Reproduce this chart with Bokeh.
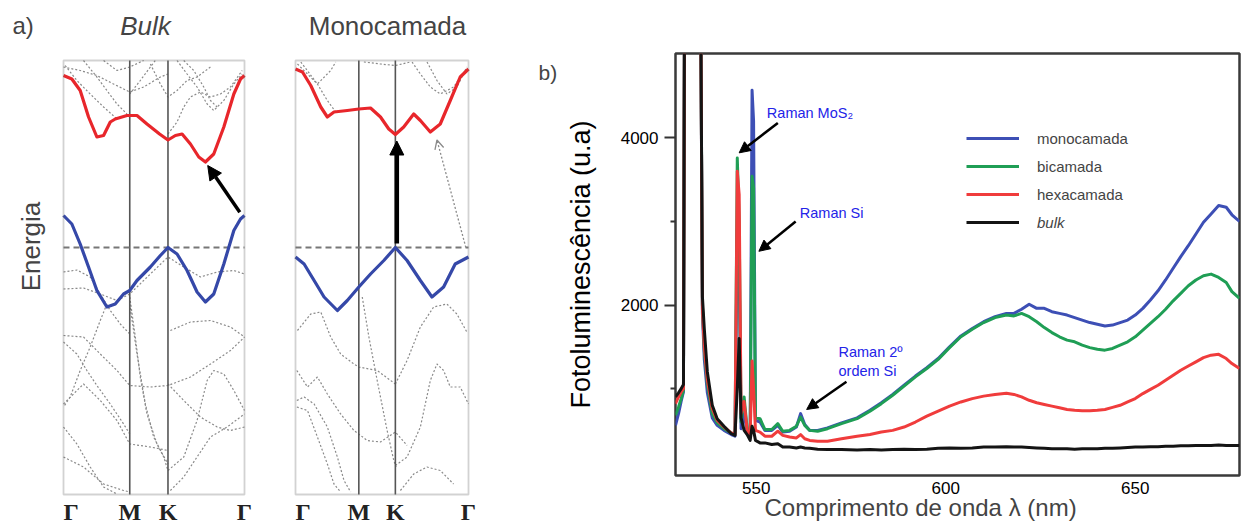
import math
from bokeh.plotting import figure
from bokeh.layouts import row
from bokeh.models import (Label, LabelSet, ColumnDataSource, Arrow, NormalHead, OpenHead,
                          Legend, LegendItem, FixedTicker, Range1d, BoxAnnotation, Title)
from bokeh.embed import file_html
from bokeh.resources import INLINE
from bokeh.core.properties import field

FONT = "Liberation Sans"

# ---------------- data: band structures (k along Γ-M-K-Γ, energy in eV, VBM = 0) ----------
k_ticks = [0.0, 1.0, 1.577, 2.732]
k_names = ["Γ", "M", "K", "Γ"]
k_align = ["left", "center", "center", "center"]
E_MIN, E_MAX = -4.94, 3.74

bulk_cb_k = [0, 0.126, 0.252, 0.378, 0.504, 0.605, 0.706, 0.781, 0.958, 1.109, 1.26, 1.45,
             1.577, 1.689, 1.79, 1.916, 2.042, 2.142, 2.268, 2.42, 2.571, 2.672, 2.732]
bulk_cb_E = [3.44, 3.37, 3.14, 2.61, 2.21, 2.24, 2.51, 2.57, 2.64, 2.64, 2.47, 2.27,
             2.15, 2.24, 2.27, 2.07, 1.81, 1.71, 1.87, 2.41, 3.07, 3.37, 3.44]
bulk_vb_k = [0, 0.126, 0.252, 0.378, 0.504, 0.655, 0.781, 0.907, 1.0, 1.109, 1.311, 1.462,
             1.577, 1.714, 1.865, 2.016, 2.142, 2.268, 2.42, 2.571, 2.672, 2.732]
bulk_vb_E = [0.64, 0.47, 0.07, -0.39, -0.86, -1.19, -1.13, -0.93, -0.86, -0.66, -0.39, -0.16,
             0.0, -0.13, -0.46, -0.89, -1.09, -0.93, -0.33, 0.34, 0.57, 0.64]

mono_cb_k = [0, 0.11, 0.241, 0.399, 0.503, 0.608, 0.818, 1.0, 1.185, 1.342, 1.473, 1.577,
             1.709, 1.867, 1.972, 2.129, 2.286, 2.444, 2.601, 2.732]
mono_cb_E = [3.57, 3.51, 3.24, 2.81, 2.61, 2.71, 2.74, 2.77, 2.79, 2.61, 2.37, 2.26,
             2.41, 2.67, 2.54, 2.31, 2.47, 2.94, 3.41, 3.57]
mono_vb_k = [0, 0.136, 0.294, 0.451, 0.661, 0.818, 1.0, 1.185, 1.395, 1.577, 1.762, 1.972,
             2.155, 2.339, 2.522, 2.732]
mono_vb_E = [-0.19, -0.33, -0.66, -0.99, -1.26, -1.06, -0.79, -0.53, -0.26, 0.0, -0.26, -0.66,
             -0.99, -0.79, -0.33, -0.19]

bulk_other_k = [
    [0.025, 0.202, 0.403, 0.605, 0.807, 1.0],
    [0, 0.252, 0.504, 0.756, 1.0, 1.21, 1.462, 1.577],
    [0.302, 0.504, 0.655, 0.807, 0.958],
    [0.605, 0.807, 1.0, 1.21],
    [1.0, 1.159, 1.311, 1.386],
    [1.577, 1.714, 1.815, 1.916, 2.067, 2.218, 2.369, 2.521, 2.697],
    [1.714, 1.865, 2.016, 2.168, 2.268, 2.42, 2.571, 2.697],
    [1.815, 1.966, 2.117, 2.218, 2.319],
    [1.311, 1.462, 1.577, 1.714, 1.865, 2.016, 2.218],
    [0, 0.202, 0.403, 0.555, 0.706, 0.857, 1.0],
    [0, 0.302, 0.555, 0.807, 1.0, 1.311, 1.577, 1.815, 2.067, 2.319, 2.571, 2.732],
    [0, 0.302, 0.555, 0.807, 1.0, 1.311, 1.577, 1.916, 2.218, 2.521, 2.732],
    [0, 0.202, 0.353, 0.504, 0.706, 0.907, 1.0],
    [0.655, 0.555, 0.403, 0.252, 0.101, 0],
    [1.0, 1.084, 1.159, 1.26, 1.411, 1.577],
    [1.0, 1.109, 1.235, 1.361, 1.512, 1.577],
    [1.577, 1.815, 2.016, 2.168, 2.268, 2.42, 2.571, 2.732],
    [1.613, 1.815, 2.016, 2.218, 2.47, 2.732],
    [0, 0.302, 0.555, 0.807, 1.0, 1.311, 1.577],
    [0, 0.202, 0.403, 0.605, 0.807],
    [0, 0.302, 0.605, 0.907, 1.0],
    [1.577, 1.815, 2.067, 2.319, 2.521, 2.732],
    [1.613, 1.916, 2.218, 2.521, 2.732],
]
bulk_other_E = [
    [3.64, 3.34, 3.07, 2.81, 2.57, 2.67],
    [3.61, 3.54, 3.44, 3.27, 3.11, 3.21, 3.41, 3.47],
    [3.74, 3.41, 3.14, 2.87, 2.67],
    [3.74, 3.54, 3.61, 3.74],
    [3.07, 3.34, 3.61, 3.74],
    [2.27, 2.51, 2.81, 3.01, 3.11, 3.01, 3.07, 3.21, 3.54],
    [3.74, 3.47, 3.21, 2.87, 2.74, 2.94, 3.27, 3.47],
    [3.74, 3.54, 3.21, 2.94, 2.81],
    [3.67, 3.27, 3.01, 3.14, 3.34, 3.41, 3.61],
    [-0.49, -0.45, -0.59, -0.93, -1.26, -1.53, -1.73],
    [-0.83, -0.81, -0.93, -1.06, -0.93, -0.53, -0.19, -0.39, -0.59, -0.49, -0.46, -0.53],
    [-1.76, -1.79, -2.13, -2.46, -2.76, -2.79, -2.76, -2.59, -2.33, -2.06, -1.79],
    [-1.89, -2.13, -2.46, -2.76, -3.13, -3.53, -3.73],
    [-1.13, -1.46, -1.99, -2.46, -2.99, -3.19],
    [-0.99, -1.79, -2.59, -3.33, -3.93, -4.33],
    [-1.13, -2.13, -3.13, -3.79, -4.19, -4.46],
    [-4.46, -4.19, -3.46, -2.66, -2.46, -2.53, -2.86, -3.26],
    [-4.86, -4.59, -4.19, -3.79, -3.59, -3.33],
    [-3.13, -2.73, -3.06, -3.46, -3.93, -3.99, -4.06],
    [-3.59, -3.93, -4.39, -4.79, -4.93],
    [-4.19, -4.39, -4.73, -4.86, -4.89],
    [-2.73, -3.06, -3.39, -3.59, -3.66, -3.59],
    [-1.66, -1.49, -1.46, -1.59, -1.79],
]

mono_other_k = [
    [0.031, 0.189, 0.346, 0.503, 0.635],
    [0.084, 0.346, 0.556, 0.635],
    [1.841, 1.972, 2.129, 2.286, 2.496, 2.68],
    [2.077, 2.234, 2.391, 2.549, 2.706],
    [1.08, 1.342, 1.577, 1.815],
    [0.031, 0.241, 0.399, 0.556, 0.713, 0.923, 1.0, 1.29, 1.577],
    [0.021, 0.189, 0.346, 0.503, 0.713, 0.923, 1.133, 1.342, 1.577, 1.762],
    [0.021, 0.136, 0.294, 0.503, 0.661, 0.766, 0.871],
    [0.021, 0.189, 0.346, 0.503, 0.608, 0.713],
    [1.054, 1.159, 1.29, 1.447, 1.552, 1.589],
    [1.577, 1.762, 1.972, 2.182, 2.391, 2.549, 2.706],
    [1.577, 1.762, 1.972, 2.129, 2.234, 2.339, 2.444, 2.601, 2.732],
    [1.657, 1.867, 2.077, 2.286, 2.496],
]
mono_other_E = [
    [3.67, 3.47, 3.27, 2.94, 2.71],
    [3.71, 3.27, 3.54, 3.71],
    [3.71, 3.47, 3.21, 3.07, 3.21, 3.54],
    [3.71, 3.34, 3.07, 3.21, 3.61],
    [3.71, 3.67, 3.64, 3.71],
    [-1.66, -1.33, -1.29, -1.79, -2.13, -2.33, -2.39, -2.46, -2.73],
    [-2.46, -2.79, -2.59, -2.93, -3.33, -3.66, -3.86, -3.89, -3.69, -3.96],
    [-3.06, -2.99, -3.13, -3.59, -4.19, -4.66, -4.89],
    [-3.19, -3.26, -3.79, -4.33, -4.73, -4.89],
    [-0.99, -1.79, -2.66, -3.66, -4.26, -4.39],
    [-2.73, -2.26, -1.59, -1.19, -1.13, -1.33, -1.69],
    [-4.36, -4.19, -3.59, -2.66, -2.33, -2.46, -2.79, -2.79, -3.13],
    [-4.86, -4.53, -4.39, -4.46, -4.73],
]

# transitions: (k_from, E_from, k_to, E_to)
bulk_gap = (2.661, 0.706, 2.177, 1.64)
mono_gap = (1.60, 0.08, 1.60, 2.13)
mono_indirect = (2.69, 0.0, 2.234, 2.15)

# ---------------- data: photoluminescence spectra ----------------
wavelength = [528.7, 529.5, 530.2, 530.8, 531.1, 535.3, 535.8, 536.3, 537.1, 538.4,
              539.7, 541.5, 543.4, 544.4, 545.0, 545.5, 546.0, 546.8, 547.6, 548.4,
              548.9, 549.3, 549.8, 551.0, 552.3, 554.1, 555.7, 557.0, 558.8, 560.6,
              561.7, 562.8, 564.1, 566.2, 568.8, 572.5, 576.6, 580, 583, 586,
              589, 592, 595, 598, 601, 604, 607, 610, 613, 616,
              618, 620, 622, 624, 626, 628, 630, 632, 634, 636,
              638, 640, 642, 644, 646, 648, 650, 652, 654, 656,
              658, 660, 662, 664, 666, 668, 670, 672, 674, 675.5,
              677.5]
pl_mono = [560, 700, 850, 960, 6000, 6000, 1900, 1350, 950, 650,
           560, 500, 450, 430, 2900, 2400, 520, 700, 480, 450,
           4570, 4200, 620, 600, 500, 500, 560, 480, 490, 540,
           700, 570, 500, 500, 530, 590, 650, 740, 830, 930,
           1040, 1150, 1250, 1360, 1500, 1630, 1720, 1800, 1860, 1900,
           1900, 1950, 2010, 1960, 1960, 1920, 1900, 1880, 1850, 1820,
           1790, 1770, 1750, 1760, 1790, 1820, 1880, 1960, 2060, 2170,
           2300, 2440, 2580, 2710, 2850, 2990, 3090, 3190, 3170, 3080,
           3000]
pl_bi = [680, 780, 880, 980, 6000, 6000, 2000, 1450, 1050, 700,
         590, 520, 470, 450, 3760, 3000, 600, 900, 520, 470,
         3540, 3400, 650, 640, 510, 510, 580, 490, 500, 550,
         660, 560, 500, 490, 520, 580, 640, 730, 820, 920,
         1030, 1140, 1240, 1350, 1490, 1620, 1710, 1790, 1850, 1880,
         1870, 1900, 1860, 1800, 1730, 1670, 1620, 1580, 1560, 1520,
         1490, 1470, 1460, 1480, 1520, 1560, 1620, 1700, 1780, 1860,
         1950, 2050, 2140, 2230, 2300, 2350, 2370, 2330, 2270, 2160,
         2080]
pl_hexa = [820, 900, 960, 1000, 6000, 6000, 1950, 1500, 1100, 760,
           620, 540, 470, 450, 3600, 3320, 700, 845, 500, 440,
           1330, 1000, 500, 480, 430, 430, 490, 440, 420, 410,
           450, 400, 380, 370, 370, 400, 430, 450, 480, 500,
           540, 600, 670, 730, 790, 840, 880, 910, 930, 945,
           930, 900, 860, 830, 810, 790, 770, 750, 740, 735,
           735, 740, 750, 775, 800, 840, 880, 940, 990, 1040,
           1100, 1160, 1220, 1270, 1320, 1370, 1400, 1410, 1360, 1300,
           1240]
pl_bulk = [900, 950, 1000, 1050, 6000, 6000, 2100, 1714, 1200, 800,
           640, 550, 460, 440, 1000, 1600, 650, 500, 450, 380,
           550, 500, 380, 350, 350, 330, 340, 300, 300, 290,
           300, 290, 285, 275, 270, 270, 265, 270, 265, 270,
           275, 270, 275, 285, 290, 285, 290, 300, 300, 305,
           300, 300, 295, 290, 285, 280, 280, 280, 275, 280,
           280, 280, 285, 285, 290, 295, 300, 300, 305, 305,
           310, 310, 315, 315, 320, 320, 320, 325, 320, 320,
           320]
series_names = ["monocamada", "bicamada", "hexacamada", "bulk"]
series_colors = ["#3d4fb5", "#1f9e55", "#f03c3c", "#141414"]

y_ticks = [2000, 4000]
y_minor = [1000, 3000]
x_ticks = [550, 600, 650]

raman_texts = [("Raman MoS₂", 552.8, 4298), ("Raman Si", 561.5, 3107),
               ("Raman 2º", 571.7, 1440), ("ordem Si", 571.7, 1214)]
raman_arrows = [(555.7, 4179, 545.5, 3821), (560.4, 3000, 550.7, 2643),
                (573.8, 1083, 563.3, 750)]

# ---------------- layout constants (pixels) ----------------
H = 524
BOX_TOP, BOX_BOTTOM = 60, 494


def no_align(p):
    try:
        p.frame_align = False
    except Exception:
        pass


def k_range(box_l, box_r, fig_l, fig_r):
    s = (box_r - box_l) / (k_ticks[-1] - k_ticks[0])
    return Range1d(k_ticks[0] - (box_l - fig_l) / s, k_ticks[-1] + (fig_r - box_r) / s)


def e_range():
    s = (BOX_BOTTOM - BOX_TOP) / (E_MAX - E_MIN)
    return Range1d(E_MIN - (H - BOX_BOTTOM) / s, E_MAX + BOX_TOP / s)


def band_panel(fig_l, fig_r, box_l, box_r, cb_k, cb_E, vb_k, vb_E, ok, oE,
               title, italic, title_x):
    p = figure(width=fig_r - fig_l, height=H, x_range=k_range(box_l, box_r, fig_l, fig_r),
               y_range=e_range(), x_axis_location=None, y_axis_location=None,
               toolbar_location=None, output_backend="svg", min_border=0,
               min_border_left=0, min_border_right=0, min_border_top=0, min_border_bottom=0)
    no_align(p)
    p.grid.visible = False
    p.outline_line_color = None
    p.background_fill_color = "white"
    p.border_fill_color = "white"
    p.multi_line(ok, oE, line_color="#8a8a8a", line_width=1.2, line_dash="2 2")
    p.segment(x0=k_ticks[1:3], y0=[E_MIN] * 2, x1=k_ticks[1:3], y1=[E_MAX] * 2,
              line_color="#555555", line_width=1.6)
    p.segment(x0=[k_ticks[0]], y0=[0], x1=[k_ticks[-1]], y1=[0], line_color="#777777",
              line_width=2, line_dash="6 4")
    p.line(cb_k, cb_E, line_color="#e8262b", line_width=3.2, line_join="round")
    p.line(vb_k, vb_E, line_color="#3548a8", line_width=3.2, line_join="round")
    p.add_layout(BoxAnnotation(left=k_ticks[0], right=k_ticks[-1], bottom=E_MIN, top=E_MAX,
                               fill_alpha=0, line_color="#6a6a6a", line_width=1.8))
    src = ColumnDataSource(dict(k=k_ticks, name=k_names, align=k_align))
    p.add_layout(LabelSet(x="k", y=H - 511, y_units="screen", text="name", source=src,
                          text_align=field("align"), text_baseline="middle",
                          text_font="Liberation Serif", text_font_style="bold",
                          text_font_size="24px", text_color="#222222"))
    p.add_layout(Label(x=title_x - fig_l, y=H - 25, x_units="screen", y_units="screen",
                       text=title, text_align="center", text_baseline="middle",
                       text_font=FONT, text_font_size="26px",
                       text_font_style="italic" if italic else "normal"))
    return p


p1 = band_panel(0, 270, 63, 244, bulk_cb_k, bulk_cb_E, bulk_vb_k, bulk_vb_E,
                bulk_other_k, bulk_other_E, "Bulk", True, 145)
p2 = band_panel(270, 562, 295, 468, mono_cb_k, mono_cb_E, mono_vb_k, mono_vb_E,
                mono_other_k, mono_other_E, "Monocamada", False, 387)

p1.add_layout(Arrow(end=NormalHead(size=14, fill_color="black", line_color="black"),
                    x_start=bulk_gap[0], y_start=bulk_gap[1], x_end=bulk_gap[2], y_end=bulk_gap[3],
                    line_width=3.5, line_color="black"))
p2.add_layout(Arrow(end=NormalHead(size=14, fill_color="black", line_color="black"),
                    x_start=mono_gap[0], y_start=mono_gap[1], x_end=mono_gap[2], y_end=mono_gap[3],
                    line_width=4.5, line_color="black"))
p2.add_layout(Arrow(end=OpenHead(size=9, line_color="#8a8a8a", line_width=1.3),
                    x_start=mono_indirect[0], y_start=mono_indirect[1],
                    x_end=mono_indirect[2], y_end=mono_indirect[3],
                    line_width=1.3, line_color="#8a8a8a", line_dash="2 2"))
p1.add_layout(Label(x=12, y=H - 25, x_units="screen", y_units="screen", text="a)",
                    text_align="left", text_baseline="middle", text_font=FONT,
                    text_font_size="24px"))
p1.add_layout(Label(x=30, y=H - 246, x_units="screen", y_units="screen", text="Energia",
                    angle=math.pi / 2, text_align="center", text_baseline="middle",
                    text_font=FONT, text_font_size="26px"))
p2.add_layout(Label(x=538 - 270, y=H - 72, x_units="screen", y_units="screen", text="b)",
                    text_align="left", text_baseline="middle", text_font=FONT,
                    text_font_size="21px"))

# ---------------- PL panel ----------------
p3 = figure(width=1244 - 562, height=H, x_range=Range1d(528.7, 677.5),
            y_range=Range1d(-40, 5010), toolbar_location=None, output_backend="svg",
            min_border_left=109, min_border_right=5, min_border_top=53, min_border_bottom=49)
no_align(p3)
p3.grid.visible = False
p3.outline_line_color = "#3a3a3a"
p3.outline_line_width = 2.5
renderers = []
for ys, c in zip([pl_mono, pl_bi, pl_hexa, pl_bulk], series_colors):
    renderers.append(p3.line(wavelength, ys, line_color=c, line_width=3.0, line_join="round"))

yax = p3.yaxis[0]
yax.ticker = FixedTicker(ticks=y_ticks, minor_ticks=y_minor)
yax.axis_line_color = None
yax.major_tick_out = 11
yax.major_tick_in = 0
yax.minor_tick_out = 5
yax.minor_tick_in = 0
yax.major_tick_line_width = 2
yax.minor_tick_line_width = 2
yax.major_tick_line_color = "#333333"
yax.minor_tick_line_color = "#333333"
yax.major_label_standoff = 6
yax.major_label_text_font = FONT
yax.major_label_text_font_size = "17px"
yax.major_label_text_color = "black"
yax.axis_label = "Fotoluminescência (u.a)"
yax.axis_label_text_font = FONT
yax.axis_label_text_font_size = "27px"
yax.axis_label_text_font_style = "normal"
yax.axis_label_text_color = "black"
yax.axis_label_standoff = 22

xax = p3.xaxis[0]
xax.ticker = FixedTicker(ticks=x_ticks, minor_ticks=[])
xax.axis_line_color = None
xax.major_tick_out = 0
xax.major_tick_in = 0
xax.major_label_standoff = 6
xax.major_label_text_font = FONT
xax.major_label_text_font_size = "17px"
xax.major_label_text_color = "black"

title_kw = dict(text="Comprimento de onda  λ (nm)", align="left", offset=89,
                text_font=FONT, text_font_size="24px", text_font_style="normal",
                vertical_align="top")
try:
    xtitle = Title(standoff=-5, **title_kw)
except Exception:
    xtitle = Title(standoff=0, **title_kw)
p3.add_layout(xtitle, "below")

for t, x, y in raman_texts:
    p3.add_layout(Label(x=x, y=y, text=t, text_align="left", text_baseline="middle",
                        text_font=FONT, text_font_size="14.5px", text_color="#2323e8"))
for xs, ys, xe, ye in raman_arrows:
    p3.add_layout(Arrow(end=NormalHead(size=11, fill_color="black", line_color="black"),
                        x_start=xs, y_start=ys, x_end=xe, y_end=ye,
                        line_width=2.5, line_color="black"))

common = dict(glyph_width=53, glyph_height=20, label_height=20, spacing=8, padding=0,
              margin=0, label_standoff=18, label_text_font=FONT, label_text_font_size="15px",
              border_line_color=None, background_fill_alpha=0)
leg1 = Legend(items=[LegendItem(label=n, renderers=[r]) for n, r in
                     zip(series_names[:3], renderers[:3])], location=(291, 271), **common)
leg2 = Legend(items=[LegendItem(label=series_names[3], renderers=[renderers[3]])],
              location=(291, 243), label_text_font_style="italic", **common)
p3.add_layout(leg1)
p3.add_layout(leg2)

layout = row(p1, p2, p3)
open("out.html", "w").write(file_html(layout, INLINE))
